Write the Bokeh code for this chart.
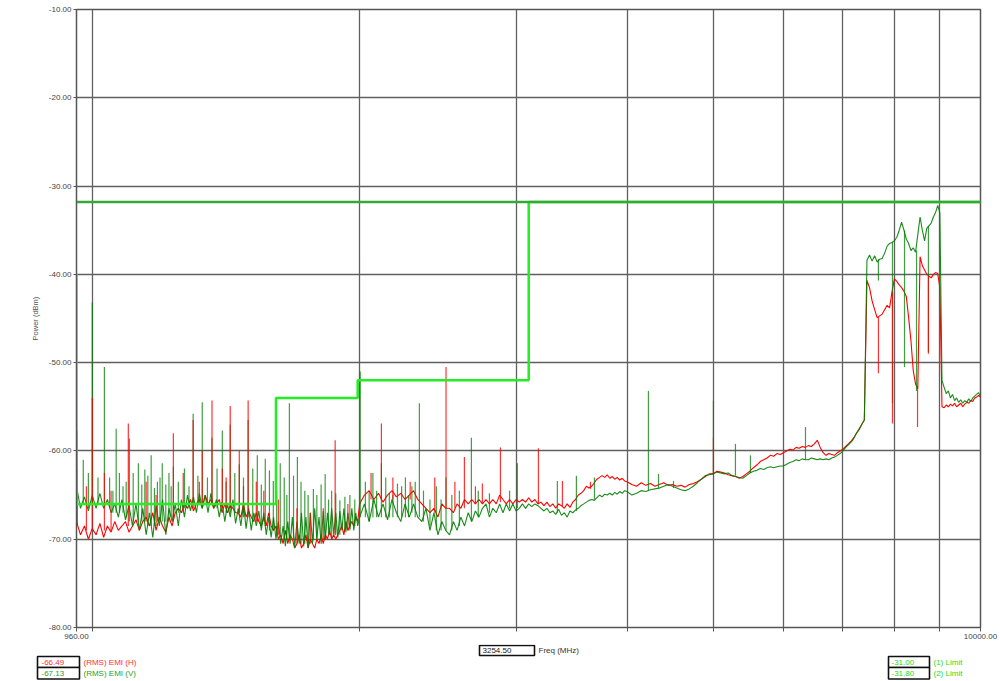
from bokeh.plotting import figure
from bokeh.models import Range1d, FixedTicker, PrintfTickFormatter
from bokeh.layouts import column
from bokeh.embed import file_html
from bokeh.resources import INLINE
from bokeh.core.properties import value

# ---------------- data ----------------
# frequency grid of the sweep (MHz)
freq_a = [
    960, 970, 980, 990, 1000, 1010, 1020, 1030, 1040, 1050,
    1060, 1070, 1080, 1090, 1100, 1110, 1120, 1130, 1140, 1150,
    1160, 1170, 1180, 1190, 1200, 1210, 1220, 1230, 1240, 1250,
    1260, 1270, 1280, 1290, 1300, 1310, 1320, 1330, 1340, 1350,
    1360, 1370, 1380, 1390, 1400, 1410, 1420, 1430, 1440, 1450,
    1460, 1470, 1480, 1490, 1500, 1510, 1520, 1530, 1540, 1550,
    1560, 1570, 1580, 1590, 1600, 1610, 1620, 1630, 1640, 1650,
    1660, 1670, 1680, 1690, 1700, 1710, 1720, 1730, 1740, 1750,
    1760, 1770, 1780, 1790, 1800, 1810, 1820, 1830, 1840, 1850,
    1860, 1870, 1880, 1890, 1900, 1910, 1920, 1930, 1940, 1950,
    1960, 1970, 1980, 1990, 2000]
freq_b = [
    2025, 2050, 2075, 2100, 2125, 2150, 2175, 2200, 2225, 2250,
    2275, 2300, 2325, 2350, 2375, 2400, 2425, 2450, 2475, 2500,
    2525, 2550, 2575, 2600, 2625, 2650, 2675, 2700, 2725, 2750,
    2775, 2800, 2825, 2850, 2875, 2900, 2925, 2950, 2975, 3000,
    3025, 3050, 3075, 3100, 3125, 3150, 3175, 3200, 3225, 3250,
    3275, 3300, 3325, 3350, 3375, 3400, 3425, 3450, 3475, 3500,
    3525, 3550, 3575, 3600, 3625, 3650, 3675, 3700, 3725, 3750,
    3775, 3800, 3825, 3850, 3875, 3900, 3925, 3950, 3975, 4000]
freq_c = [
    4050, 4100, 4150, 4200, 4250, 4300, 4350, 4400, 4450, 4500,
    4550, 4600, 4650, 4700, 4750, 4800, 4850, 4900, 4950, 5000,
    5050, 5100, 5150, 5200, 5250, 5300, 5350, 5400, 5450, 5500,
    5550, 5600, 5650, 5700, 5750, 5800, 5850, 5900, 5950, 6000,
    6050, 6100, 6150, 6200, 6250, 6300, 6350, 6400, 6450, 6500,
    6550, 6600, 6650, 6700, 6750, 6800, 6850, 6900, 6950, 7000,
    7050, 7100, 7150, 7200, 7250, 7300, 7350, 7400, 7450, 7500,
    7550, 7600, 7650, 7700, 7750, 7800, 7850, 7900, 7950, 8000,
    8050, 8100, 8150, 8200, 8250, 8300, 8350, 8400, 8450, 8500,
    8550, 8600, 8650, 8700, 8750, 8800, 8850, 8900, 8950, 9000,
    9050, 9100, 9150, 9200, 9250, 9300, 9350, 9400, 9450, 9500,
    9550, 9600, 9650, 9700, 9750, 9800, 9850, 9900, 9950, 10000]

# (RMS) EMI (V) - dark green trace, noise floor (dBm)
emi_v_a = [
    -64.0, -66.5, -65.2, -66.8, -65.0, -66.5, -64.8, -66.5, -65.5, -67.0,
    -66.0, -67.5, -65.5, -67.8, -66.2, -68.5, -66.0, -69.0, -66.5, -69.5,
    -67.0, -69.8, -66.2, -68.5, -65.5, -69.5, -66.5, -68.0, -66.0, -68.5,
    -65.5, -67.5, -65.0, -66.8, -65.2, -67.0, -64.8, -66.5, -65.0, -67.0,
    -64.8, -66.5, -65.5, -67.5, -65.8, -68.0, -66.0, -67.5, -65.5, -68.2,
    -66.5, -68.5, -66.0, -68.8, -66.5, -69.0, -67.0, -68.5, -66.8, -69.0,
    -67.0, -69.5, -67.5, -69.8, -67.5, -70.0, -68.0, -70.5, -68.5, -70.8,
    -68.0, -70.5, -67.5, -71.0, -68.0, -70.5, -67.0, -70.8, -67.5, -71.0,
    -67.0, -70.5, -66.5, -70.0, -67.5, -70.5, -66.8, -70.0, -67.0, -69.5,
    -66.5, -69.5, -67.0, -69.8, -66.8, -69.0, -66.5, -69.2, -67.0, -68.8,
    -66.5, -69.0, -67.0, -68.5, -67.5]
emi_v_b = [
    -66.0, -68.0, -65.5, -67.5, -66.0, -67.8, -65.5, -67.0, -68.0, -66.0,
    -67.5, -66.0, -67.5, -68.0, -66.5, -69.0, -67.0, -69.5, -68.0, -69.0,
    -69.5, -68.0, -69.0, -67.5, -68.5, -67.0, -68.0, -66.8, -67.5, -66.5,
    -66.0, -67.5, -66.5, -67.0, -66.0, -67.0, -66.0, -66.8, -66.0, -66.8,
    -66.5, -66.0, -66.5, -66.0, -66.3, -66.0, -66.2, -66.5, -66.8, -66.5,
    -67.0, -66.8, -67.2, -66.6, -67.3, -67.0, -67.5, -66.8, -67.0, -66.7,
    -66.5, -66.2, -66.0, -65.8, -65.6, -65.5, -65.6, -65.3, -65.0, -65.2,
    -64.9, -65.0, -64.8, -65.0, -64.7, -64.9, -64.6, -64.8, -64.5, -64.6]
emi_v_c = [
    -65.0, -64.8, -64.5, -64.6, -64.4, -64.3, -64.2, -64.0, -63.8, -64.0,
    -64.2, -64.4, -64.5, -64.3, -64.0, -63.6, -63.2, -62.8, -62.7, -62.6,
    -62.4, -62.5, -62.6, -62.5, -62.8, -62.9, -63.0, -63.1, -62.8, -62.5,
    -62.3, -62.2, -62.0, -62.1, -61.9, -61.8, -61.9, -61.8, -61.7, -61.7,
    -61.5, -61.3, -61.2, -61.0, -61.1, -60.9, -61.0, -61.0, -60.8, -60.9,
    -61.0, -60.9, -61.0, -60.9, -61.0, -60.8, -60.7, -60.5, -60.3, -60.0,
    -59.6, -59.3, -59.0, -58.6, -58.0, -57.5, -57.0, -56.5, -38.4, -37.8,
    -38.5, -37.9, -38.6, -38.3, -38.2, -37.6, -36.8, -36.5, -36.4, -36.2,
    -35.8, -35.0, -34.1, -35.0, -36.0, -36.5, -37.3, -37.0, -37.5, -35.5,
    -33.5, -35.0, -36.2, -34.8, -34.5, -34.2, -33.5, -33.0, -32.2, -33.0,
    -52.0, -52.8, -53.5, -53.2, -54.0, -53.6, -54.3, -54.0, -54.5, -54.2,
    -54.6, -54.3, -54.5, -54.1, -54.4, -54.0, -53.8, -53.6, -53.4, -53.8]

# (RMS) EMI (H) - red trace, noise floor (dBm)
emi_h_a = [
    -68.0, -69.5, -68.5, -70.0, -68.8, -69.5, -68.2, -69.8, -68.5, -69.2,
    -68.0, -69.0, -68.5, -68.0, -69.2, -68.5, -67.8, -69.0, -68.0, -67.5,
    -68.5, -67.0, -69.0, -67.5, -68.5, -69.2, -67.5, -68.5, -67.0, -66.5,
    -67.0, -66.0, -66.5, -65.5, -66.8, -66.0, -65.5, -66.5, -65.0, -66.0,
    -65.5, -66.5, -66.0, -65.5, -67.0, -66.0, -67.0, -66.2, -66.5, -67.0,
    -67.0, -67.5, -66.0, -67.5, -66.8, -67.5, -68.0, -67.0, -68.0, -68.5,
    -67.5, -68.5, -67.0, -68.5, -69.0, -68.5, -70.0, -69.5, -70.5, -69.0,
    -70.5, -69.5, -70.0, -71.0, -70.5, -69.5, -71.0, -70.5, -69.5, -71.0,
    -70.0, -70.5, -71.0, -70.0, -70.5, -69.5, -70.5, -69.5, -70.0, -69.0,
    -70.0, -69.5, -70.0, -69.5, -69.0, -68.5, -69.5, -68.0, -69.0, -68.5,
    -68.0, -68.5, -67.5, -68.0, -66.0]
emi_h_b = [
    -65.0, -64.5, -65.5, -64.8, -65.8, -65.0, -64.5, -65.2, -64.8, -65.5,
    -65.0, -64.5, -65.5, -66.0, -66.5, -67.0, -66.5, -67.5, -66.0, -66.5,
    -66.5, -67.0, -66.0, -66.5, -65.5, -66.0, -65.5, -66.0, -65.5, -66.0,
    -65.5, -66.0, -65.5, -66.0, -65.0, -65.5, -66.0, -65.5, -66.0, -65.5,
    -65.8, -65.5, -65.8, -65.3, -65.8, -65.5, -66.0, -65.8, -66.2, -65.8,
    -66.3, -66.0, -66.5, -66.0, -66.2, -66.5, -66.0, -66.4, -65.8, -65.5,
    -65.0, -64.8, -64.5, -64.0, -64.2, -64.0, -63.6, -63.2, -63.0, -62.8,
    -63.0, -62.7, -63.1, -62.9, -63.2, -63.0, -63.3, -63.1, -63.4, -63.5]
emi_h_c = [
    -63.8, -64.0, -63.6, -63.9, -63.7, -64.0, -63.8, -63.6, -63.9, -63.8,
    -64.0, -63.9, -64.1, -63.8, -63.7, -63.5, -63.2, -62.9, -62.6, -62.6,
    -62.3, -62.4, -62.5, -62.7, -62.8, -62.9, -63.1, -62.9, -62.6, -62.3,
    -61.9, -61.6, -61.2, -61.0, -60.8, -60.5, -60.6, -60.3, -60.4, -60.2,
    -60.0, -59.8, -59.9, -59.6, -59.7, -59.5, -59.6, -59.4, -59.5, -59.2,
    -58.8, -59.6, -60.2, -60.5, -60.3, -60.4, -60.5, -60.2, -60.0, -59.8,
    -59.5, -59.2, -58.9, -58.5, -58.0, -57.6, -57.0, -56.5, -40.7, -41.5,
    -43.0, -44.0, -44.9, -44.7, -44.5, -44.0, -43.5, -43.8, -42.0, -40.5,
    -40.8, -41.2, -41.5, -41.9, -42.5, -44.9, -47.5, -50.9, -52.4, -53.0,
    -38.0, -39.0, -39.5, -40.0, -40.2, -40.4, -40.0, -39.8, -39.9, -41.5,
    -55.0, -55.1, -54.8, -55.0, -54.7, -54.9, -54.6, -55.0, -54.8, -54.6,
    -55.0, -54.7, -54.5, -54.6, -54.3, -54.4, -54.0, -53.9, -53.7, -53.9]

# narrow spurs (and drop-outs) of each trace: frequency, floor level, peak level
spur_v_freq = [962, 977, 1000, 1032, 1046, 1064, 1083, 1101, 1127, 1146,
               1165, 1184, 1199, 1220, 1234, 1299, 1330, 1364, 1401, 1430,
               1464, 1498, 1534, 1566, 1599, 1628, 1667, 1702, 1750, 1774,
               1829, 1860, 1900, 1950, 2003, 2050, 2116, 2160, 2206, 2252,
               2290, 2335, 2502, 2672, 3010, 3339, 3508, 3676, 4228, 4340,
               4512, 5004, 5298, 5508, 6353,
               7675, 7960, 8212, 8472, 8737,
               990, 1015, 1055, 1073, 1092, 1112, 1137, 1155, 1175, 1192,
               1210, 1227, 1250, 1270, 1285, 1315, 1348, 1382, 1415, 1447,
               1480, 1516, 1550, 1583, 1613, 1645, 1656, 1685, 1718, 1735,
               1790, 1810, 1845, 1880, 1925, 1975, 2030, 2070, 2090, 2140,
               2180, 2230, 2270, 2310, 2360, 2400, 2440, 2470, 2540, 2590,
               2720, 2800, 2950]
spur_v_floor = [-66.0, -66.0, -66.0, -66.0, -66.5, -67.0, -67.0, -68.0, -68.0, -68.0,
                -68.5, -68.0, -68.0, -68.0, -67.5, -66.0, -66.0, -66.0, -66.5, -67.0,
                -67.0, -67.5, -68.0, -68.5, -69.0, -69.5, -70.0, -70.0, -70.5, -70.0,
                -70.0, -70.0, -69.5, -69.0, -67.5, -68.0, -67.5, -67.5, -67.5, -67.5,
                -67.0, -67.5, -69.0, -68.0, -66.5, -67.0, -66.8, -65.5, -64.5, -64.3,
                -64.2, -62.6, -62.8, -62.5, -61.0,
                -38.3, -36.4, -35.0, -37.3, -34.5,
                -66.5, -66.0, -67.0, -67.0, -67.5, -68.0, -68.0, -68.5, -68.5, -68.0,
                -68.0, -67.5, -67.0, -66.5, -66.5, -66.0, -66.0, -66.5, -67.0, -67.0,
                -67.5, -68.0, -68.5, -69.0, -69.5, -70.0, -70.0, -70.0, -70.5, -70.5,
                -70.0, -70.0, -69.5, -69.5, -69.0, -68.5, -67.5, -67.5, -67.5, -67.5,
                -67.5, -67.5, -67.5, -67.5, -68.0, -68.5, -69.0, -69.0, -69.0, -68.5,
                -67.5, -67.0, -66.5]
spur_v_peak = [-57.7, -61.0, -43.2, -50.5, -63.0, -57.5, -64.0, -58.6, -61.4, -62.1,
               -60.5, -63.5, -61.4, -62.5, -61.8, -55.8, -54.5, -58.5, -57.7, -57.0,
               -61.5, -56.5, -60.5, -60.9, -63.4, -61.4, -54.6, -60.7, -65.0, -64.3,
               -62.6, -64.5, -65.6, -65.0, -51.0, -64.5, -61.4, -64.8, -63.7, -63.0,
               -64.0, -54.6, -63.0, -58.5, -61.4, -63.4, -62.8, -63.0, -53.2, -62.6,
               -63.4, -54.3, -59.2, -60.5, -57.3,
               -40.7, -54.6, -50.5, -53.2, -48.8,
               -62.5, -63.0, -64.5, -62.5, -63.5, -62.5, -63.8, -62.8, -64.2, -63.0,
               -63.8, -64.0, -63.5, -62.0, -64.0, -62.8, -63.0, -62.0, -63.5, -62.5,
               -63.0, -62.0, -63.8, -62.2, -64.5, -63.0, -65.0, -62.8, -63.5, -64.5,
               -65.0, -63.8, -65.5, -64.8, -65.2, -65.5, -63.5, -62.5, -64.5, -63.0,
               -65.0, -64.0, -65.0, -63.5, -64.5, -65.5, -64.0, -65.5, -65.0, -64.5,
               -64.5, -64.8, -64.5]

spur_h_freq = [962, 1000, 1032, 1098, 1234, 1266, 1299, 1330, 1364, 1401,
               1430, 1464, 1498, 1530, 1877, 2116, 2502, 2624, 2749, 2881,
               3179, 3383, 3638, 5004,
               7675, 7960, 8494, 8737,
               985, 1050, 1150, 1180, 1320, 1415, 1480, 1560, 1620, 1700,
               1760, 1820, 1940, 2060, 2180, 2280, 2430, 2560, 2700]
spur_h_floor = [-68.5, -69.0, -69.0, -68.5, -68.0, -67.0, -66.5, -66.0, -66.0, -66.5,
                -66.5, -67.0, -67.0, -68.0, -69.5, -65.5, -66.5, -66.5, -66.0, -65.8,
                -66.0, -66.3, -64.3, -62.6,
                -44.8, -42.0, -53.0, -40.2,
                -69.0, -69.0, -68.0, -68.5, -66.0, -66.5, -67.0, -68.0, -69.5, -70.5,
                -70.5, -70.0, -69.0, -65.5, -65.5, -65.5, -67.0, -66.5, -66.0]
spur_h_peak = [-62.2, -54.0, -62.5, -56.9, -58.0, -62.5, -56.5, -60.0, -54.3, -62.0,
               -54.9, -60.0, -54.3, -63.5, -58.8, -56.9, -50.5, -60.7, -63.7, -59.6,
               -59.7, -63.4, -63.5, -58.5,
               -51.2, -56.9, -57.3, -49.0,
               -64.0, -64.5, -63.5, -65.0, -63.5, -63.0, -64.0, -64.5, -65.5, -66.5,
               -67.0, -66.5, -66.0, -62.5, -63.0, -63.5, -63.0, -63.5, -64.0]

limit1_freq = [960, 960, 1610, 1610, 1990, 1990, 3100, 3100, 10000]
limit1_db = [-40.0, -66.0, -66.0, -54.0, -54.0, -52.0, -52.0, -31.8, -31.8]
limit2_freq = [960, 10000]
limit2_db = [-31.8, -31.8]

x_label_ticks = [960, 10000]
x_grid_ticks = [1000, 2000, 3000, 4000, 5000, 6000, 7000, 8000, 9000]
y_ticks = [-80, -70, -60, -50, -40, -30, -20, -10]
cursor_freq = "3254.50"
readout_names = ["(RMS) EMI (H)", "(RMS) EMI (V)", "(1) Limit", "(2) Limit"]
readout_values = ["-66.49", "-67.13", "-31.00", "-31.80"]

freq = freq_a + freq_b + freq_c
emi_v = emi_v_a + emi_v_b + emi_v_c
emi_h = emi_h_a + emi_h_b + emi_h_c

FONT = value("Liberation Sans")
RED = "#ff0000"
DKGREEN = "#007f00"
LIME = "#22ee22"
LIM2 = "#36a836"
GRID = "#606060"

# ---------------- main plot ----------------
p = figure(width=1000, height=644, x_axis_type="log",
           x_range=Range1d(960, 10000), y_range=Range1d(-80, -10),
           output_backend="svg", toolbar_location=None,
           min_border_left=76, min_border_right=20,
           min_border_top=9, min_border_bottom=17)
p.background_fill_color = "white"
p.border_fill_color = "white"
p.outline_line_color = "#555555"
p.outline_line_width = 1.5

p.xaxis.ticker = FixedTicker(ticks=x_label_ticks, minor_ticks=x_grid_ticks)
p.xaxis.formatter = PrintfTickFormatter(format="%.2f")
p.xaxis.major_label_text_font = "Liberation Sans"
p.xaxis.major_label_text_font_size = "8px"
p.xaxis.major_label_text_color = "#444444"
p.xaxis.major_label_standoff = 2
p.xaxis.major_tick_out = 4
p.xaxis.major_tick_in = 0
p.xaxis.minor_tick_out = 4
p.xaxis.minor_tick_in = 0
p.xaxis.minor_tick_line_color = "#555555"
p.xaxis.axis_line_color = "#555555"
p.xaxis.major_tick_line_color = "#555555"

p.yaxis.ticker = FixedTicker(ticks=y_ticks)
p.yaxis.formatter = PrintfTickFormatter(format="%.2f")
p.yaxis.major_tick_out = 3
p.yaxis.major_tick_in = 0
p.yaxis.minor_tick_line_color = None
p.yaxis.axis_line_color = "#555555"
p.yaxis.major_tick_line_color = "#555555"
p.yaxis.major_label_text_font = "Liberation Sans"
p.yaxis.major_label_text_font_size = "8px"
p.yaxis.major_label_text_color = "#444444"
p.yaxis.major_label_standoff = 2
p.yaxis.axis_label = "Power (dBm)"
p.yaxis.axis_label_text_font = "Liberation Sans"
p.yaxis.axis_label_text_font_size = "7.5px"
p.yaxis.axis_label_text_font_style = "normal"
p.yaxis.axis_label_text_color = "#555555"
p.yaxis.axis_label_standoff = 6

p.grid.grid_line_color = GRID
p.grid.grid_line_width = 1.3
p.xgrid.minor_grid_line_color = GRID
p.xgrid.minor_grid_line_width = 1.3

p.line(freq, emi_h, line_color=RED, line_width=1.1)
p.line(freq, emi_v, line_color=DKGREEN, line_width=1.1, line_alpha=0.9)
p.segment(x0=spur_v_freq, y0=spur_v_floor, x1=spur_v_freq, y1=spur_v_peak,
          line_color=DKGREEN, line_width=1.2, line_alpha=0.75)
p.segment(x0=spur_h_freq, y0=spur_h_floor, x1=spur_h_freq, y1=spur_h_peak,
          line_color=RED, line_width=1.2, line_alpha=0.8)
p.line(limit1_freq, limit1_db, line_color=LIME, line_width=2.5)
p.line(limit2_freq, limit2_db, line_color=LIM2, line_width=2.5)

# ---------------- readout strip under the plot ----------------
q = figure(width=1000, height=37, x_range=Range1d(0, 1000), y_range=Range1d(681, 644),
           output_backend="svg", toolbar_location=None, min_border=0,
           x_axis_location=None, y_axis_location=None)
q.outline_line_color = None
q.background_fill_color = "white"
q.border_fill_color = "white"
q.grid.visible = False

for fig in (p, q):
    try:
        fig.frame_align = False
    except Exception:
        pass

q.quad(left=[479, 37, 37, 888, 888], right=[534, 79, 79, 929, 929],
       top=[645, 656, 667, 656, 667], bottom=[655, 667, 678.5, 667, 678.5],
       fill_color="white", line_color="#111111", line_width=1.6)

q.text(x=[482], y=[650], text=[cursor_freq], text_font=FONT, text_font_size="8px",
       text_color="#222222", text_align="left", text_baseline="middle")
q.text(x=[538], y=[650], text=["Freq (MHz)"], text_font=FONT, text_font_size="8px",
       text_color="#333333", text_align="left", text_baseline="middle")

val_x = [41, 41, 891, 891]
name_x = [83, 83, 933, 933]
row_y = [661.5, 673, 661.5, 673]
cols = ["#ff3030", "#2aa02a", "#22dd22", "#22dd22"]
q.text(x=val_x, y=row_y, text=readout_values, text_font=FONT, text_font_size="8px",
       text_color=cols, text_align="left", text_baseline="middle")
q.text(x=name_x, y=row_y, text=readout_names, text_font=FONT, text_font_size="8px",
       text_color=cols, text_align="left", text_baseline="middle")

layout = column(p, q, spacing=0)
open("out.html", "w").write(file_html(layout, INLINE))
